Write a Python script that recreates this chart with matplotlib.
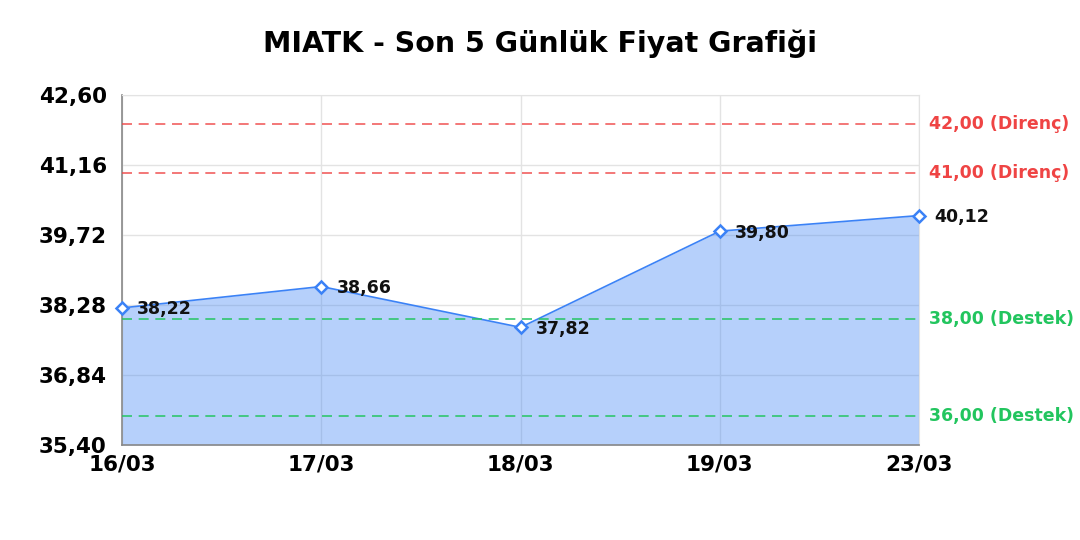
import matplotlib
matplotlib.use("Agg")
import matplotlib.pyplot as plt
import numpy as np

# chart data
dates = ["16/03", "17/03", "18/03", "19/03", "23/03"]
prices = [38.22, 38.66, 37.82, 39.80, 40.12]
resistance = [42.00, 41.00]
support = [38.00, 36.00]
y_ticks = [35.40, 36.84, 38.28, 39.72, 41.16, 42.60]


def tr(v):
    return f"{v:.2f}".replace(".", ",")


fig = plt.figure(figsize=(10.8, 5.4), dpi=100)
ax = fig.add_axes([0.113, 0.176, 0.738, 0.648])

x = np.arange(len(dates))
blue = "#3b82f6"
red = "#ef4444"
green = "#22c55e"

ax.fill_between(x, prices, y_ticks[0], color=blue, alpha=0.37, linewidth=0, zorder=2)
ax.plot(x, prices, color=blue, linewidth=1.2, zorder=3)
ax.plot(x, prices, linestyle="none", marker="D", markersize=6.5,
        markerfacecolor="white", markeredgecolor=blue, markeredgewidth=1.8,
        zorder=4, clip_on=False)

for xi, p in zip(x, prices):
    ax.annotate(tr(p), (xi, p), xytext=(11, -1), textcoords="offset points",
                fontsize=12.5, fontweight="bold", color="#111111",
                va="center", ha="left", annotation_clip=False, zorder=5)

for lvl in resistance:
    ax.axhline(lvl, color=red, alpha=0.85, linestyle=(0, (6, 4)), linewidth=1.2, zorder=3)
    ax.text(1.012, lvl, f"{tr(lvl)} (Direnç)", transform=ax.get_yaxis_transform(),
            color=red, fontsize=12.5, fontweight="bold", va="center", ha="left")
for lvl in support:
    ax.axhline(lvl, color=green, alpha=0.9, linestyle=(0, (6, 4)), linewidth=1.2, zorder=3)
    ax.text(1.012, lvl, f"{tr(lvl)} (Destek)", transform=ax.get_yaxis_transform(),
            color=green, fontsize=12.5, fontweight="bold", va="center", ha="left")

ax.set_xlim(0, len(dates) - 1)
ax.set_ylim(y_ticks[0], y_ticks[-1])
ax.set_xticks(x)
ax.set_xticklabels(dates, fontsize=15.5, fontweight="bold")
ax.set_yticks(y_ticks)
ax.set_yticklabels([tr(v) for v in y_ticks], fontsize=15.5, fontweight="bold")
ax.tick_params(axis="x", length=0, pad=7)
ax.tick_params(axis="y", length=0, pad=11)
ax.grid(True, color="#e3e3e3", linewidth=1, zorder=0)
ax.set_axisbelow(True)
for s in ["top", "right"]:
    ax.spines[s].set_color("#e3e3e3")
for s in ["left", "bottom"]:
    ax.spines[s].set_color("#888888")
    ax.spines[s].set_linewidth(1.2)

fig.suptitle("MIATK - Son 5 Günlük Fiyat Grafiği", fontsize=20.5, fontweight="bold", y=0.945)

fig.savefig("out.png", dpi=100)
